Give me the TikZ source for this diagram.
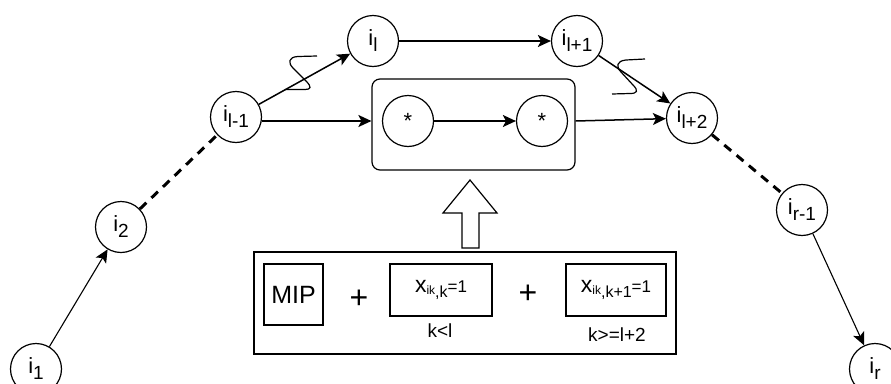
\documentclass[tikz,border=0pt]{standalone}
\usepackage{fontspec}
\setmainfont{Liberation Sans}
\usetikzlibrary{arrows.meta}

\def\cs{51pt}
\newcommand{\lab}[2]{\fontsize{22}{22}\selectfont #1\raisebox{-6pt}{\fontsize{19}{19}\selectfont #2}}
\newcommand{\xvar}[1]{\fontsize{23}{23}\selectfont x\raisebox{-2pt}{\fontsize{12}{12}\selectfont ik}\raisebox{-5pt}{\fontsize{16}{16}\selectfont ,#1}\fontsize{17}{17}\selectfont =1}

\begin{document}
\begin{tikzpicture}[x=1pt, y=-1pt, line width=1.5pt, >={Stealth[length=13pt,width=12pt,inset=3pt]}, every node/.style={circle,draw,line width=1.2pt,inner sep=0,minimum size=\cs}]

		\useasboundingbox (0,0) rectangle (891,383);

		\node (i1) at (36,369) {\lab{i}{1}};
		\node (i2) at (121,227) {\lab{i}{2}};
		\node (il1) at (236,117) {\lab{i}{l-1}};
		\node (il) at (373,41) {\lab{i}{l}};
		\node (ilp1) at (577,41) {\lab{i}{l+1}};
		\node (ilp2) at (692,118) {\lab{i}{l+2}};
		\node (ir1) at (802,210) {\lab{i}{r-1}};
		\node (ir) at (875,369) {\lab{i}{r}};

		\node (grp) at (473.5,124.5) [rectangle,rounded corners=8pt,minimum width=203pt,minimum height=91pt] {};
		\node (s1) at (408,121) [circle,draw] {\fontsize{22}{22}\selectfont *};
		\node (s2) at (542,121) [circle,draw] {\fontsize{22}{22}\selectfont *};

		\node (bot) at (465,303) [rectangle,minimum width=422pt,minimum height=102pt] {};
		\node (mip) at (293.5,294.5) [rectangle,minimum width=59pt,minimum height=61pt] {\fontsize{25}{25}\selectfont MIP};
		\node (pa) at (359,299) [rectangle,draw=none] {\fontsize{32}{32}\selectfont +};
		\node (xa) at (441,290) [rectangle,minimum width=102pt,minimum height=52pt] {\xvar{k}};
		\node (pb) at (528,294) [rectangle,draw=none] {\fontsize{32}{32}\selectfont +};
		\node (xb) at (616,290) [rectangle,minimum width=100pt,minimum height=52pt] {\xvar{k+1}};
		\node (ca) at (440,331) [rectangle,draw=none] {\fontsize{19}{19}\selectfont k<l};
		\node (cb) at (617,335) [rectangle,draw=none] {\fontsize{19}{19}\selectfont k>=l+2};

		\draw[->, line width=1.1pt] (i1) to (i2);
		\draw[line width=3pt, dash pattern=on 9pt off 7pt] (i2) to (il1);
		\draw[->] (il1) to (il);
		\draw[->] (il1.east |- s1) -- (grp.west |- s1);
		\draw[->] (s1) to (s2);
		\draw[->] (il) to (ilp1);
		\draw[->] (ilp1) to (ilp2);
		\draw[->] (grp.east |- s2) -- (ilp2);
		\draw[line width=3pt, dash pattern=on 9pt off 7pt] (ilp2) to (ir1);
		\draw[->, line width=1.1pt] (ir1) to (ir);

		\draw[line width=1.2pt] (317,56) -- (298,56.5) .. controls (288,57) and (288,63) .. (293,68) -- (306,81) .. controls (312,87) and (311,89.5) .. (305,89.5) -- (285,89.5);
		\draw[line width=1.2pt] (645,59) -- (626,60) .. controls (616,61) and (616,67) .. (621,72) -- (633,85) .. controls (639,91) and (637,93.5) .. (630,93.5) -- (612,94);

		\draw[line width=1.2pt] (470,180) -- (497,213) -- (479,213) -- (479,248) -- (462,248) -- (462,213) -- (443,213) -- cycle;

	\end{tikzpicture}
\end{document}
